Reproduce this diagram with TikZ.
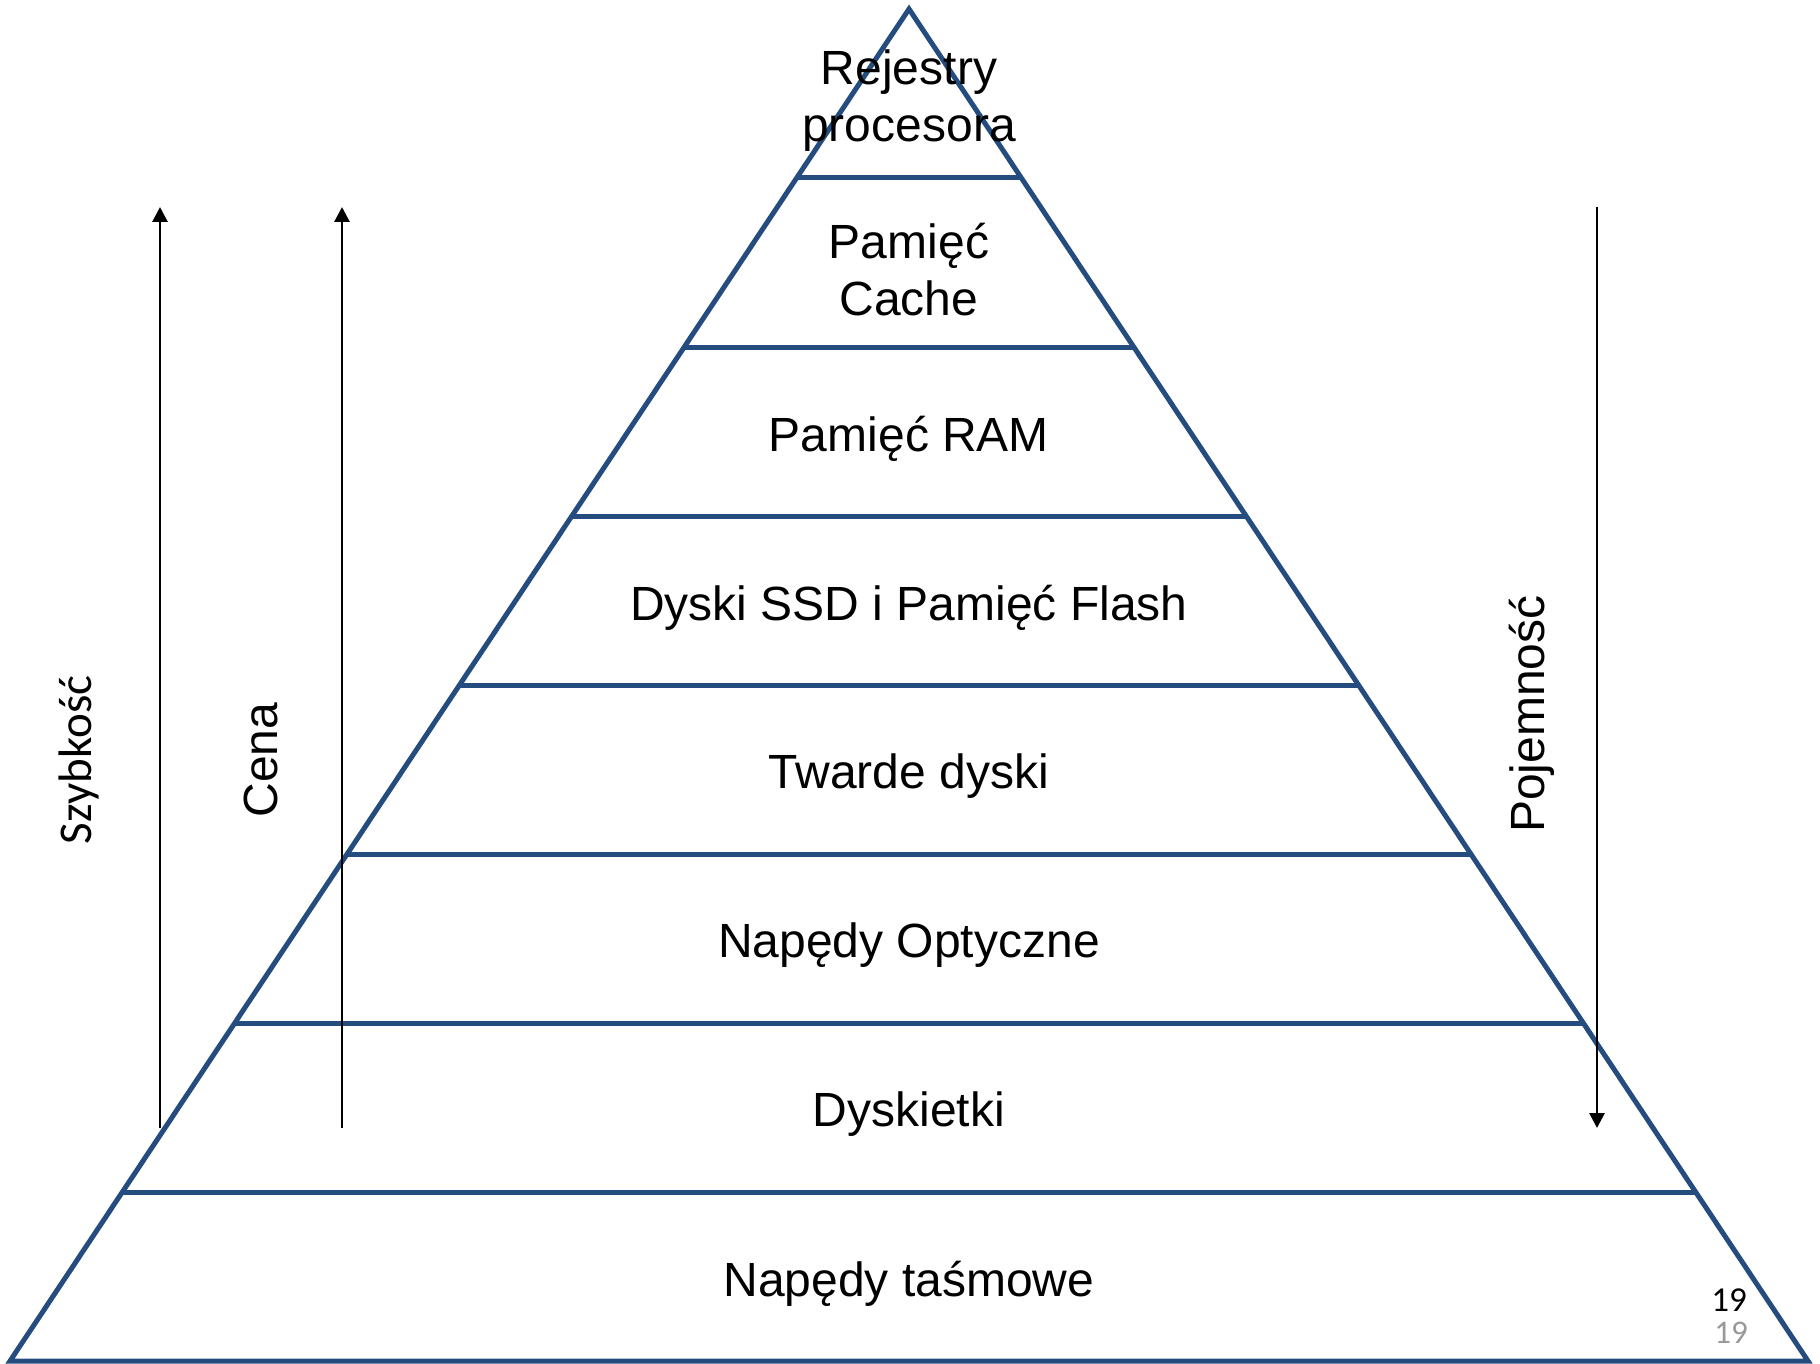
\documentclass[tikz,border=0pt]{standalone}
\usepackage{fontspec}
\setmainfont{Liberation Sans}
\newfontfamily\carlito{Carlito}
\usetikzlibrary{arrows.meta,calc,positioning}
\definecolor{pyrblue}{RGB}{36,76,126}
\tikzset{>={Triangle[length=15pt,width=15pt]}}

\begin{document}
\begin{tikzpicture}[x=1pt, y=-1pt,
    level/.style={font=\fontsize{48}{57}\selectfont, align=center, inner sep=0pt},
    side/.style={font=\fontsize{48}{57}\selectfont, rotate=90, inner sep=0pt},
    frame/.style={draw=pyrblue, line width=5pt},
    axis/.style={->, line width=2.8pt}]
    \useasboundingbox (0,0) rectangle (1820,1364);
    \coordinate (top) at (909,9);
    \coordinate (bl) at (10,1361);
    \coordinate (br) at (1808,1361);
    \draw[frame] (bl) -- (top) -- (br) -- cycle;
    \foreach \k in {1,...,7} {
        \coordinate (l-\k) at ($(top)!\k/8!(bl)$);
        \coordinate (r-\k) at ($(top)!\k/8!(br)$);
        \draw[frame] (l-\k) -- (r-\k);
    }
    \foreach[count=\i] \txt in {{Rejestry\\procesora},{Pamięć\\Cache},{Pamięć RAM},
        {Dyski SSD i Pamięć Flash},{Twarde dyski},{Napędy Optyczne},{Dyskietki},{Napędy taśmowe}} {
        \node[level] (lev-\i) at (909,{16+169*(\i-0.5)}) {\txt};
    }

    % axes
    \coordinate (sz-a) at (160,1128);
    \coordinate (sz-b) at (160,207);
    \coordinate (ce-a) at (342,1128);
    \coordinate (ce-b) at (342,207);
    \coordinate (po-a) at (1597,207);
    \coordinate (po-b) at (1597,1128);
    \draw[axis] (sz-a) -- (sz-b);
    \draw[axis] (ce-a) -- (ce-b);
    \draw[axis] (po-a) -- (po-b);
    \node[side, font=\carlito\fontsize{47}{57}\selectfont] (szyb) at (79,760) {Szybkość};
    \node[side] (cena) at (261,760) {Cena};
    \node[side] (poj) at (1532,714) {Pojemność};

    \node[font=\carlito\fontsize{35}{35}\selectfont, inner sep=0pt] (pg) at (1729,1300) {19};
    \node[font=\carlito\fontsize{33}{33}\selectfont, text=black!40, inner sep=0pt] (pg-b) at (1731,1333) {19};
\end{tikzpicture}
\end{document}
